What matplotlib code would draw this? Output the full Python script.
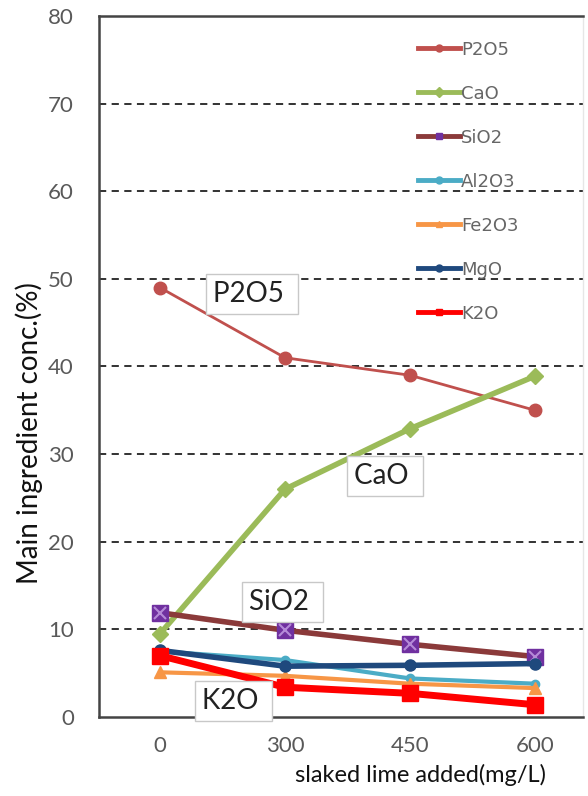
import matplotlib
matplotlib.use("Agg")
import matplotlib.pyplot as plt
from matplotlib.lines import Line2D

# data
doses = ["0", "300", "450", "600"]
p2o5 = [49.0, 41.0, 39.0, 35.0]
cao = [9.5, 26.0, 32.9, 38.9]
sio2 = [11.9, 9.9, 8.3, 6.9]
al2o3 = [7.5, 6.5, 4.4, 3.8]
fe2o3 = [5.1, 4.7, 3.8, 3.3]
mgo = [7.6, 5.8, 5.9, 6.1]
k2o = [7.0, 3.4, 2.7, 1.4]

# in-plot label boxes: (text, left x, centre y)
box_labels = [("P2O5", 0.424, 48.3), ("CaO", 1.552, 27.5),
              ("SiO2", 0.712, 13.1), ("K2O", 0.336, 1.85)]

plt.rcParams["font.family"] = ["Lato", "DejaVu Sans"]

fig = plt.figure(figsize=(5.88, 7.96), dpi=100)
ax = fig.add_axes([99 / 588, 1 - 717 / 796, 484 / 588, 701 / 796])

x = list(range(len(doses)))

series = [
    ("P2O5", p2o5, dict(color="#C0504D", lw=2.0, marker="o", ms=9)),
    ("CaO", cao, dict(color="#9BBB59", lw=4.0, marker="D", ms=8)),
    ("SiO2", sio2, dict(color="#8B3A3A", lw=4.0, marker="s", ms=11,
                        mfc="#7030A0", mec="#7030A0")),
    ("Al2O3", al2o3, dict(color="#4BACC6", lw=3.0, marker="o", ms=6)),
    ("Fe2O3", fe2o3, dict(color="#F79646", lw=3.0, marker="^", ms=8)),
    ("MgO", mgo, dict(color="#1F497D", lw=4.0, marker="o", ms=8)),
    ("K2O", k2o, dict(color="#FF0000", lw=5.0, marker="s", ms=12)),
]

handles = []
for name, vals, style in series:
    ax.plot(x, vals, **style)
    if name == "SiO2":
        ax.plot(x, vals, ls="none", marker="x", ms=8, mew=1.5, color="#B58AD8")
    hs = dict(style)
    hs["ms"] = 5
    hs["lw"] = 3.5
    handles.append(Line2D([], [], label=name, **hs))

for text, bx, by in box_labels:
    ax.text(bx, by, text + "\u00a0", ha="left", va="center", fontsize=20,
            color="#222222",
            bbox=dict(boxstyle="square,pad=0.25", fc="white", ec="#c8c8c8", lw=1))

leg = ax.legend(handles=handles, loc="upper left", bbox_to_anchor=(0.645, 0.975),
                frameon=False, handlelength=2.3, handletextpad=0.05,
                labelspacing=1.44, borderaxespad=0,
                prop={"family": "DejaVu Sans", "size": 13})
for t in leg.get_texts():
    t.set_color("#666666")

ax.set_xlim(-0.488, 3.384)
ax.set_ylim(0, 80)
ax.set_xticks(x)
ax.set_xticklabels(doses)
ax.set_yticks(range(0, 81, 10))
ax.tick_params(length=0, labelsize=16, labelcolor="#595959")
ax.tick_params(axis="x", pad=14)
ax.tick_params(axis="y", pad=18)

for yv in range(10, 80, 10):
    ax.axhline(yv, color="#222222", lw=1.3, ls=(0, (4, 3)), zorder=0)

for side in ["left", "bottom", "top"]:
    ax.spines[side].set_color("#444444")
    ax.spines[side].set_linewidth(1.8)
ax.spines["right"].set_color("#e6e6e6")
ax.spines["right"].set_linewidth(1)

ax.set_ylabel("Main ingredient conc.(%)", fontsize=20, color="#111111")
ax.yaxis.set_label_coords(-0.115, 0.405)
ax.set_xlabel("slaked lime added(mg/L)", fontsize=17, color="#111111")
ax.xaxis.set_label_coords(0.665, -0.083)
ax.xaxis.label.set_va("center")

fig.savefig("out.png", dpi=100)
